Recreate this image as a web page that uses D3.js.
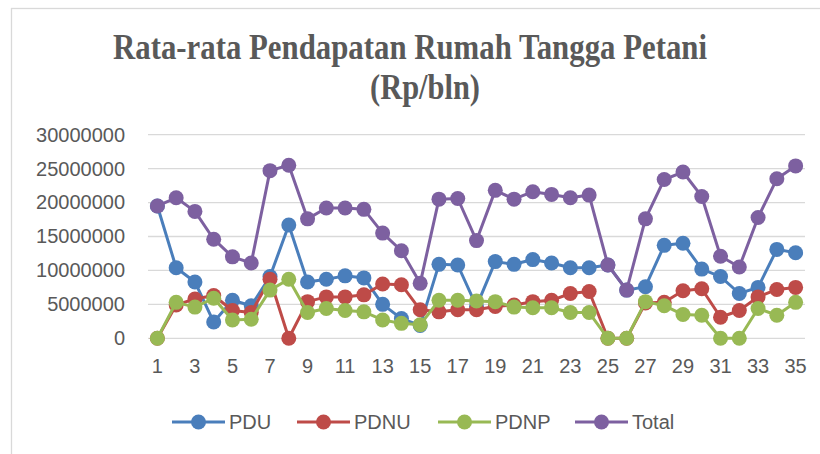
<!DOCTYPE html>
<html lang="en">
<head>
  <meta charset="UTF-8">
  <title>Rata-rata Pendapatan Rumah Tangga Petani</title>
  <script src="https://cdn.jsdelivr.net/npm/d3@7"></script>
  <style>
    body { margin: 0; background: #fff; }
    .grid line { stroke: #d9d9d9; stroke-width: 1.3px; }
    .axis text { fill: #595959; font: 20px "Liberation Sans", sans-serif; }
    .title { fill: #595959; font-family: "Liberation Serif", serif; font-weight: bold; }
    .legend text { fill: #595959; font: 20px "Liberation Sans", sans-serif; }
  </style>
</head>
<body>
<svg width="820" height="454"></svg>
<script>
  // data (Rp per bulan), sampel 1..35
  var categories = d3.range(1, 36);
  var pdu = [19500000, 10400000, 8300000, 2400000, 5600000, 4800000, 9100000, 16700000, 8300000, 8700000,
             9200000, 8900000, 5000000, 2900000, 1900000, 10900000, 10800000, 4700000, 11300000, 10900000,
             11600000, 11100000, 10400000, 10400000, 10800000, 7100000, 7600000, 13700000, 14000000, 10200000,
             9100000, 6600000, 7500000, 13100000, 12600000];
  var pdnu = [0, 4900000, 5800000, 6300000, 4100000, 3800000, 8700000, 0, 5400000, 6100000,
              6100000, 6400000, 8000000, 7900000, 4200000, 3900000, 4200000, 4200000, 4700000, 4900000,
              5400000, 5600000, 6600000, 6900000, 0, 0, 5200000, 5300000, 7000000, 7300000,
              3100000, 4100000, 6100000, 7200000, 7500000];
  var pdnp = [0, 5300000, 4600000, 5900000, 2700000, 2800000, 7100000, 8700000, 3800000, 4400000,
              4100000, 3900000, 2700000, 2200000, 2000000, 5600000, 5600000, 5500000, 5400000, 4600000,
              4500000, 4500000, 3800000, 3800000, 0, 0, 5400000, 4800000, 3500000, 3400000,
              0, 0, 4400000, 3400000, 5300000];
  var total = [19500000, 20700000, 18700000, 14600000, 12000000, 11100000, 24700000, 25500000, 17600000, 19200000,
               19200000, 19000000, 15500000, 12900000, 8100000, 20500000, 20600000, 14400000, 21800000, 20500000,
               21600000, 21200000, 20700000, 21100000, 10800000, 7100000, 17600000, 23400000, 24500000, 20900000,
               12100000, 10500000, 17800000, 23500000, 25400000];
  var yTicks = [0, 5000000, 10000000, 15000000, 20000000, 25000000, 30000000];
  var xLabels = categories.filter(function(d) { return d % 2 === 1; });

  var seriesNames = ["PDU", "PDNU", "PDNP", "Total"];
  var colors = ["#4a7ebb", "#be4b48", "#98b954", "#7d60a0"];
  var series = [pdu, pdnu, pdnp, total].map(function(vals, i) {
    return { name: seriesNames[i], color: colors[i], values: vals };
  });

  var svg = d3.select("svg");

  // chart border (runs off the bottom/right like the screenshot)
  svg.append("rect")
      .attr("x", 11.5).attr("y", 8.5)
      .attr("width", 830).attr("height", 460)
      .attr("fill", "none").attr("stroke", "#d9d9d9").attr("stroke-width", 1.3);

  // title (squeezed a bit, like the source)
  var title = svg.append("text").attr("class", "title").attr("text-anchor", "middle");
  title.append("tspan").attr("x", 410).attr("y", 59).attr("font-size", 35)
      .attr("textLength", 594).attr("lengthAdjust", "spacingAndGlyphs")
      .text("Rata-rata Pendapatan Rumah Tangga Petani");
  title.append("tspan").attr("x", 425).attr("y", 99).attr("font-size", 35)
      .attr("textLength", 110).attr("lengthAdjust", "spacingAndGlyphs")
      .text("(Rp/bln)");

  var x = d3.scaleBand().domain(categories).range([148, 805]);
  var y = d3.scaleLinear().domain([0, 30000000]).range([338.3, 134.7]);

  // gridlines
  svg.append("g").attr("class", "grid")
    .selectAll("line").data(yTicks).enter().append("line")
      .attr("x1", 148).attr("x2", 805)
      .attr("y1", function(d) { return y(d); })
      .attr("y2", function(d) { return y(d); });

  // y axis
  var yAxis = svg.append("g").attr("class", "axis")
      .attr("transform", "translate(131,0)")
      .call(d3.axisLeft(y).tickValues(yTicks).tickSize(0).tickPadding(6).tickFormat(d3.format("d")));
  yAxis.select(".domain").remove();

  // x axis
  var xAxis = svg.append("g").attr("class", "axis")
      .attr("transform", "translate(0,355)")
      .call(d3.axisBottom(x).tickValues(xLabels).tickSize(0).tickPadding(4));
  xAxis.select(".domain").remove();

  var cx = function(d, i) { return x(categories[i]) + x.bandwidth() / 2; };
  var line = d3.line()
      .x(cx)
      .y(function(d) { return y(d); });

  var sg = svg.selectAll("g.series").data(series).enter().append("g").attr("class", "series");
  sg.append("path")
      .attr("d", function(d) { return line(d.values); })
      .attr("fill", "none")
      .attr("stroke", function(d) { return d.color; })
      .attr("stroke-width", 3)
      .attr("stroke-linejoin", "round");
  sg.each(function(s) {
    d3.select(this).selectAll("circle").data(s.values).enter().append("circle")
        .attr("cx", cx)
        .attr("cy", function(d) { return y(d); })
        .attr("r", 7.5)
        .attr("fill", s.color);
  });

  // legend
  var legendX = [172, 297, 438, 575];
  var lg = svg.append("g").attr("class", "legend")
    .selectAll("g").data(series).enter().append("g")
      .attr("transform", function(d, i) { return "translate(" + legendX[i] + ",422)"; });
  lg.append("line").attr("x1", 0).attr("x2", 53)
      .attr("stroke", function(d) { return d.color; }).attr("stroke-width", 3);
  lg.append("circle").attr("cx", 26.5).attr("r", 7.5)
      .attr("fill", function(d) { return d.color; });
  lg.append("text").attr("x", 57).attr("dy", "0.35em")
      .text(function(d) { return d.name; });
</script>
</body>
</html>
